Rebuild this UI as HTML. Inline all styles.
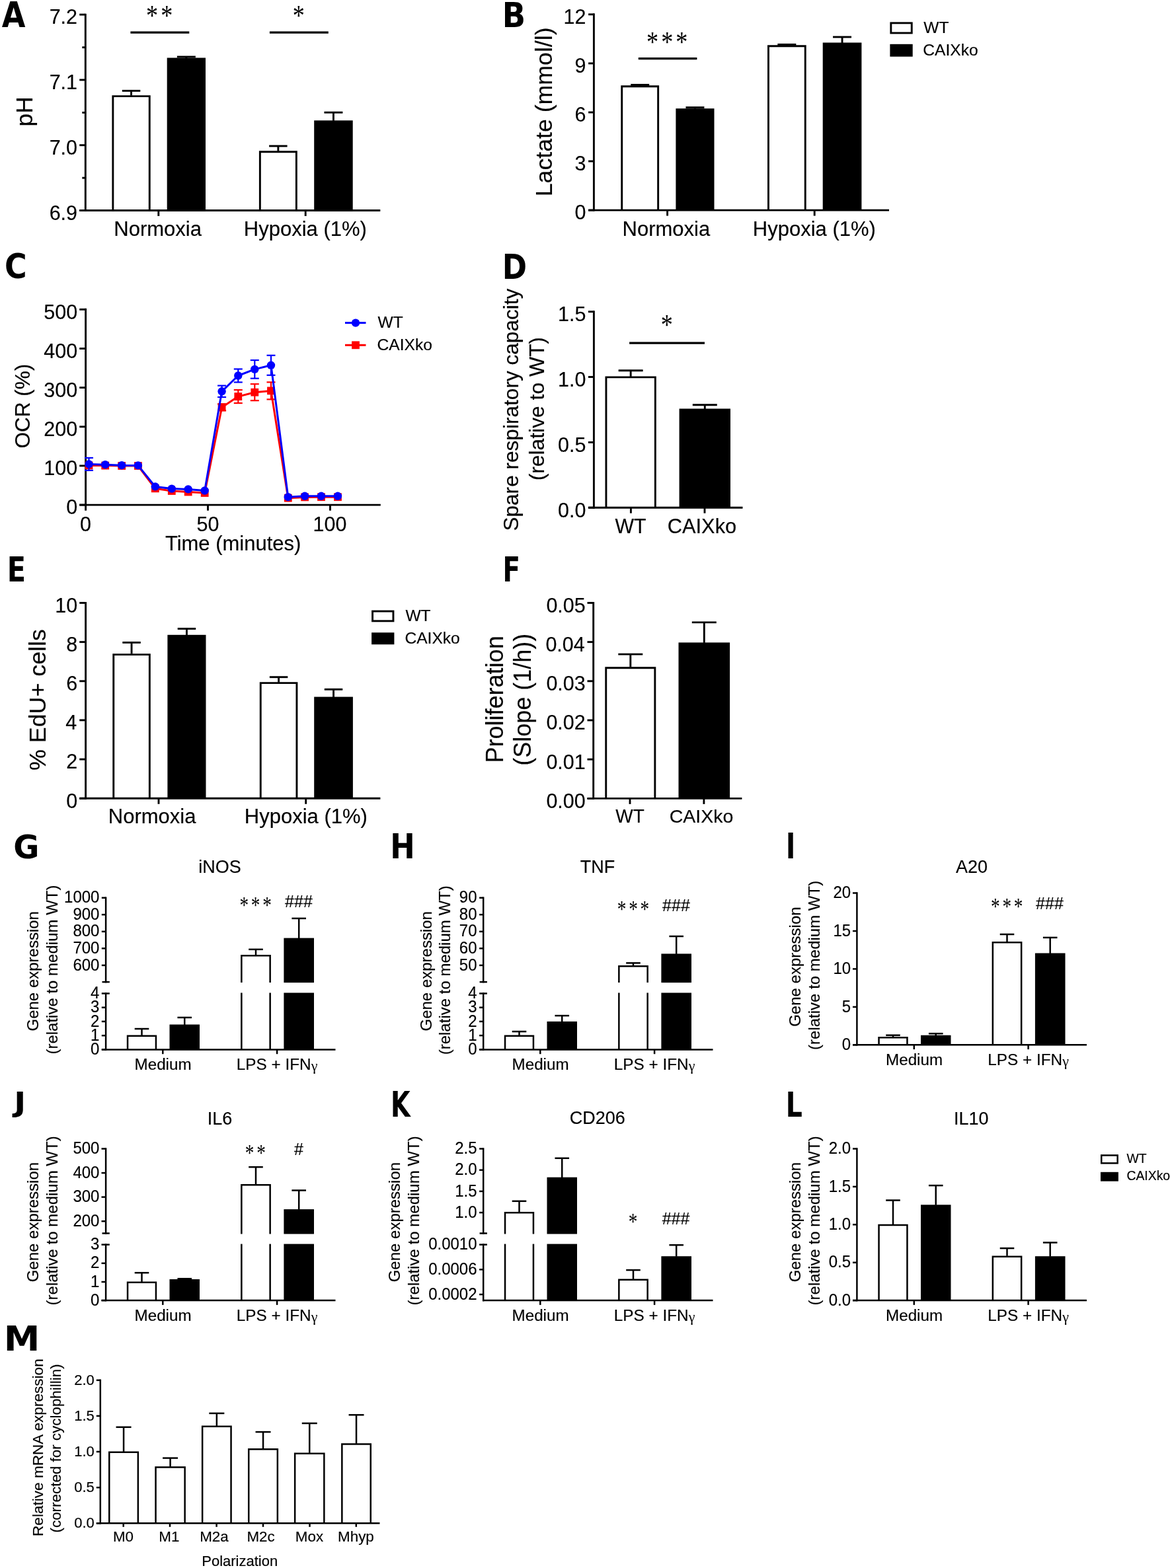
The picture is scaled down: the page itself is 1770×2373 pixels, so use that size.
<!DOCTYPE html>
<html lang="en">
<head>
<meta charset="utf-8">
<title>Figure</title>
<style>
html,body{margin:0;padding:0;background:#fff}
body{width:1770px;height:2373px;overflow:hidden}
svg{display:block}
svg text{font-family:"Liberation Sans",Arial,sans-serif;fill:#000;stroke:#000;stroke-width:.16px;stroke-linejoin:round}
svg .s{font-family:"Liberation Serif","Times New Roman",serif;stroke:none}
svg .d{font-family:"DejaVu Sans","Liberation Sans",sans-serif;stroke:none}
</style>
</head>
<body>
<svg width="1770" height="2373" viewBox="0 0 1770 2373" role="img" aria-label="Figure panels A to M" fill="none" stroke="#000" stroke-width="2.9" stroke-linecap="butt" stroke-linejoin="miter">
<rect x="0" y="0" width="1770" height="2373" fill="#fff" stroke="none"/>
<!-- Panel A -->
<text transform="translate(2.7 41.1) scale(0.8875 1.0184)" font-size="52" class="d" font-weight="bold">A</text>
<path d="M170.85 318.5V145.65H226.25V318.5" fill="#fff"/>
<line x1="198.55" y1="137.4" x2="198.55" y2="144.7"/>
<line x1="184.8" y1="137.4" x2="212.3" y2="137.4"/>
<rect x="252.7" y="87.5" width="58.3" height="231" fill="#000" stroke="none"/>
<line x1="281.85" y1="86" x2="281.85" y2="88"/>
<line x1="267.85" y1="86" x2="295.85" y2="86"/>
<path d="M393.35 318.5V229.75H448.35V318.5" fill="#fff"/>
<line x1="420.85" y1="221" x2="420.85" y2="228.8"/>
<line x1="407.1" y1="221" x2="434.6" y2="221"/>
<rect x="475.2" y="182.3" width="58.5" height="136.2" fill="#000" stroke="none"/>
<line x1="504.45" y1="170.2" x2="504.45" y2="182.8"/>
<line x1="490.45" y1="170.2" x2="518.45" y2="170.2"/>
<line x1="129.3" y1="20.65" x2="129.3" y2="319.95"/>
<line x1="120.2" y1="22.1" x2="129.3" y2="22.1"/>
<line x1="120.2" y1="120.9" x2="129.3" y2="120.9"/>
<line x1="120.2" y1="219.7" x2="129.3" y2="219.7"/>
<line x1="120.2" y1="318.5" x2="129.3" y2="318.5"/>
<line x1="124.3" y1="71.7" x2="129.3" y2="71.7"/>
<line x1="124.3" y1="170.4" x2="129.3" y2="170.4"/>
<line x1="124.3" y1="269.2" x2="129.3" y2="269.2"/>
<text transform="translate(74.66 36.4) scale(1 1.04)" font-size="30.5">7.2</text>
<text transform="translate(74.66 135.2) scale(1 1.04)" font-size="30.5">7.1</text>
<text transform="translate(74.66 234) scale(1 1.04)" font-size="30.5">7.0</text>
<text transform="translate(74.66 332.8) scale(1 1.04)" font-size="30.5">6.9</text>
<line x1="120.2" y1="318.5" x2="575.3" y2="318.5"/>
<line x1="239.8" y1="318.5" x2="239.8" y2="327"/>
<line x1="462.2" y1="318.5" x2="462.2" y2="327"/>
<text transform="translate(49 191.54) rotate(-90)" font-size="35.4">pH</text>
<line x1="197.4" y1="49.2" x2="286.3" y2="49.2" stroke-width="3.3"/>
<line x1="407.9" y1="49.2" x2="496.8" y2="49.2" stroke-width="3.3"/>
<text transform="translate(221.06 38) scale(0.8222 1.0000)" font-size="44" class="s" letter-spacing="4.88">**</text>
<text transform="translate(442.76 38) scale(0.8222 1.0000)" font-size="44" class="s">*</text>
<text x="172.3" y="357" font-size="31">Normoxia</text>
<text x="368.83" y="357" font-size="31">Hypoxia (1%)</text>
<!-- Panel B -->
<text transform="translate(759.64 40.7) scale(0.8906 0.9789)" font-size="52" class="d" font-weight="bold">B</text>
<path d="M940.75 318.1V130.75H995.65V318.1" fill="#fff"/>
<line x1="968.2" y1="128.4" x2="968.2" y2="129.8"/>
<line x1="954.2" y1="128.4" x2="982.2" y2="128.4"/>
<rect x="1022.4" y="164.2" width="58.1" height="153.9" fill="#000" stroke="none"/>
<line x1="1051.45" y1="162.6" x2="1051.45" y2="164.7"/>
<line x1="1037.45" y1="162.6" x2="1065.45" y2="162.6"/>
<path d="M1162.45 318.1V69.75H1218.25V318.1" fill="#fff"/>
<line x1="1190.35" y1="67.4" x2="1190.35" y2="68.8"/>
<line x1="1176.35" y1="67.4" x2="1204.35" y2="67.4"/>
<rect x="1244.7" y="64.5" width="58.7" height="253.6" fill="#000" stroke="none"/>
<line x1="1274.05" y1="56" x2="1274.05" y2="65"/>
<line x1="1260.05" y1="56" x2="1288.05" y2="56"/>
<line x1="898.4" y1="20.35" x2="898.4" y2="319.55"/>
<line x1="890.1" y1="21.8" x2="898.4" y2="21.8"/>
<line x1="890.1" y1="95.9" x2="898.4" y2="95.9"/>
<line x1="890.1" y1="170" x2="898.4" y2="170"/>
<line x1="890.1" y1="244" x2="898.4" y2="244"/>
<line x1="890.1" y1="318.1" x2="898.4" y2="318.1"/>
<text transform="translate(852.44 35.8) scale(1 1.04)" font-size="30.5">12</text>
<text transform="translate(869.4 109.9) scale(1 1.04)" font-size="30.5">9</text>
<text transform="translate(869.4 184) scale(1 1.04)" font-size="30.5">6</text>
<text transform="translate(869.4 258) scale(1 1.04)" font-size="30.5">3</text>
<text transform="translate(869.4 332.1) scale(1 1.04)" font-size="30.5">0</text>
<line x1="890.1" y1="318.1" x2="1345" y2="318.1"/>
<line x1="1009.6" y1="318.1" x2="1009.6" y2="326.6"/>
<line x1="1232.2" y1="318.1" x2="1232.2" y2="326.6"/>
<text transform="translate(835.3 297.27) rotate(-90)" font-size="35.7">Lactate (mmol/l)</text>
<line x1="965.8" y1="88.7" x2="1054.4" y2="88.7" stroke-width="3.3"/>
<text transform="translate(977.96 77.9) scale(0.8222 1.0000)" font-size="44" class="s" letter-spacing="5">***</text>
<text x="941.6" y="357" font-size="31">Normoxia</text>
<text x="1138.83" y="357" font-size="31">Hypoxia (1%)</text>
<rect x="1347.85" y="34.85" width="31.4" height="15.1" fill="#fff"/>
<rect x="1346.4" y="66.8" width="34.3" height="18.9" fill="#000" stroke="none"/>
<text x="1397.3" y="50" font-size="24.6">WT</text>
<text x="1396.3" y="83.9" font-size="24.6">CAIXko</text>
<!-- Panel C -->
<text transform="translate(6.94 421.32) scale(0.8818 0.9825)" font-size="52" class="d" font-weight="bold">C</text>
<line x1="129.6" y1="466.85" x2="129.6" y2="765.55"/>
<line x1="120.2" y1="468.3" x2="129.6" y2="468.3"/>
<line x1="120.2" y1="527.5" x2="129.6" y2="527.5"/>
<line x1="120.2" y1="586.6" x2="129.6" y2="586.6"/>
<line x1="120.2" y1="645.8" x2="129.6" y2="645.8"/>
<line x1="120.2" y1="704.9" x2="129.6" y2="704.9"/>
<line x1="120.2" y1="764.1" x2="129.6" y2="764.1"/>
<text transform="translate(66.37 482.6) scale(1 1.04)" font-size="30.5">500</text>
<text transform="translate(66.37 541.8) scale(1 1.04)" font-size="30.5">400</text>
<text transform="translate(66.37 600.9) scale(1 1.04)" font-size="30.5">300</text>
<text transform="translate(66.37 660.1) scale(1 1.04)" font-size="30.5">200</text>
<text transform="translate(66.37 719.2) scale(1 1.04)" font-size="30.5">100</text>
<text transform="translate(100.3 778.4) scale(1 1.04)" font-size="30.5">0</text>
<line x1="120.2" y1="764.1" x2="575.8" y2="764.1"/>
<line x1="129.6" y1="764.1" x2="129.6" y2="772.7"/>
<line x1="314.5" y1="764.1" x2="314.5" y2="772.7"/>
<line x1="499.5" y1="764.1" x2="499.5" y2="772.7"/>
<text transform="translate(121.1 804.2) scale(1 1.04)" font-size="30.5">0</text>
<text transform="translate(297.52 804.2) scale(1 1.04)" font-size="30.5">50</text>
<text transform="translate(473.54 804.2) scale(1 1.04)" font-size="30.5">100</text>
<text x="249.89" y="833.1" font-size="31">Time (minutes)</text>
<text transform="translate(45 678.42) rotate(-90)" font-size="31.5">OCR (%)</text>
<line x1="335.6" y1="611.4" x2="335.6" y2="621.4" stroke-width="2.2" stroke="#ff0000"/>
<line x1="329.1" y1="611.4" x2="342.1" y2="611.4" stroke-width="2.2" stroke="#ff0000"/>
<line x1="329.1" y1="621.4" x2="342.1" y2="621.4" stroke-width="2.2" stroke="#ff0000"/>
<line x1="360.3" y1="590.1" x2="360.3" y2="610.1" stroke-width="2.2" stroke="#ff0000"/>
<line x1="353.8" y1="590.1" x2="366.8" y2="590.1" stroke-width="2.2" stroke="#ff0000"/>
<line x1="353.8" y1="610.1" x2="366.8" y2="610.1" stroke-width="2.2" stroke="#ff0000"/>
<line x1="385.3" y1="581.2" x2="385.3" y2="606.2" stroke-width="2.2" stroke="#ff0000"/>
<line x1="378.8" y1="581.2" x2="391.8" y2="581.2" stroke-width="2.2" stroke="#ff0000"/>
<line x1="378.8" y1="606.2" x2="391.8" y2="606.2" stroke-width="2.2" stroke="#ff0000"/>
<line x1="410" y1="578.4" x2="410" y2="604.4" stroke-width="2.2" stroke="#ff0000"/>
<line x1="403.5" y1="578.4" x2="416.5" y2="578.4" stroke-width="2.2" stroke="#ff0000"/>
<line x1="403.5" y1="604.4" x2="416.5" y2="604.4" stroke-width="2.2" stroke="#ff0000"/>
<polyline points="134.5,704.4 159.2,704.6 184.2,705.0 208.9,705.0 234.8,739.3 259.8,743.0 284.7,744.5 309.7,746.0 335.6,616.4 360.3,600.1 385.3,593.7 410.0,591.4 435.8,753.7 461.1,752.4 486.0,752.2 511.0,752.2" stroke="#ff0000" stroke-width="3" stroke-linejoin="round"/>
<rect x="128.6" y="698.5" width="11.8" height="11.8" fill="#ff0000" stroke="none"/>
<rect x="153.3" y="698.7" width="11.8" height="11.8" fill="#ff0000" stroke="none"/>
<rect x="178.3" y="699.1" width="11.8" height="11.8" fill="#ff0000" stroke="none"/>
<rect x="203" y="699.1" width="11.8" height="11.8" fill="#ff0000" stroke="none"/>
<rect x="228.9" y="733.4" width="11.8" height="11.8" fill="#ff0000" stroke="none"/>
<rect x="253.9" y="737.1" width="11.8" height="11.8" fill="#ff0000" stroke="none"/>
<rect x="278.8" y="738.6" width="11.8" height="11.8" fill="#ff0000" stroke="none"/>
<rect x="303.8" y="740.1" width="11.8" height="11.8" fill="#ff0000" stroke="none"/>
<rect x="329.7" y="610.5" width="11.8" height="11.8" fill="#ff0000" stroke="none"/>
<rect x="354.4" y="594.2" width="11.8" height="11.8" fill="#ff0000" stroke="none"/>
<rect x="379.4" y="587.8" width="11.8" height="11.8" fill="#ff0000" stroke="none"/>
<rect x="404.1" y="585.5" width="11.8" height="11.8" fill="#ff0000" stroke="none"/>
<rect x="429.9" y="747.8" width="11.8" height="11.8" fill="#ff0000" stroke="none"/>
<rect x="455.2" y="746.5" width="11.8" height="11.8" fill="#ff0000" stroke="none"/>
<rect x="480.1" y="746.3" width="11.8" height="11.8" fill="#ff0000" stroke="none"/>
<rect x="505.1" y="746.3" width="11.8" height="11.8" fill="#ff0000" stroke="none"/>
<line x1="134.5" y1="692.9" x2="134.5" y2="711.9" stroke-width="2.2" stroke="#0000ff"/>
<line x1="128" y1="692.9" x2="141" y2="692.9" stroke-width="2.2" stroke="#0000ff"/>
<line x1="128" y1="711.9" x2="141" y2="711.9" stroke-width="2.2" stroke="#0000ff"/>
<line x1="335.6" y1="583.6" x2="335.6" y2="601" stroke-width="2.2" stroke="#0000ff"/>
<line x1="329.1" y1="583.6" x2="342.1" y2="583.6" stroke-width="2.2" stroke="#0000ff"/>
<line x1="329.1" y1="601" x2="342.1" y2="601" stroke-width="2.2" stroke="#0000ff"/>
<line x1="360.3" y1="558.5" x2="360.3" y2="578.5" stroke-width="2.2" stroke="#0000ff"/>
<line x1="353.8" y1="558.5" x2="366.8" y2="558.5" stroke-width="2.2" stroke="#0000ff"/>
<line x1="353.8" y1="578.5" x2="366.8" y2="578.5" stroke-width="2.2" stroke="#0000ff"/>
<line x1="385.3" y1="545.1" x2="385.3" y2="572.7" stroke-width="2.2" stroke="#0000ff"/>
<line x1="378.8" y1="545.1" x2="391.8" y2="545.1" stroke-width="2.2" stroke="#0000ff"/>
<line x1="378.8" y1="572.7" x2="391.8" y2="572.7" stroke-width="2.2" stroke="#0000ff"/>
<line x1="410" y1="537.8" x2="410" y2="567.8" stroke-width="2.2" stroke="#0000ff"/>
<line x1="403.5" y1="537.8" x2="416.5" y2="537.8" stroke-width="2.2" stroke="#0000ff"/>
<line x1="403.5" y1="567.8" x2="416.5" y2="567.8" stroke-width="2.2" stroke="#0000ff"/>
<polyline points="134.5,702.4 159.2,703.2 184.2,704.2 208.9,704.4 234.8,736.4 259.8,739.6 284.7,740.4 309.7,742.5 335.6,592.3 360.3,568.5 385.3,558.9 410.0,552.8 435.8,752.2 461.1,750.8 486.0,750.8 511.0,750.8" stroke="#0000ff" stroke-width="3" stroke-linejoin="round"/>
<circle cx="134.5" cy="702.4" r="6.2" fill="#0000ff" stroke="none"/>
<circle cx="159.2" cy="703.2" r="6.2" fill="#0000ff" stroke="none"/>
<circle cx="184.2" cy="704.2" r="6.2" fill="#0000ff" stroke="none"/>
<circle cx="208.9" cy="704.4" r="6.2" fill="#0000ff" stroke="none"/>
<circle cx="234.8" cy="736.4" r="6.2" fill="#0000ff" stroke="none"/>
<circle cx="259.8" cy="739.6" r="6.2" fill="#0000ff" stroke="none"/>
<circle cx="284.7" cy="740.4" r="6.2" fill="#0000ff" stroke="none"/>
<circle cx="309.7" cy="742.5" r="6.2" fill="#0000ff" stroke="none"/>
<circle cx="335.6" cy="592.3" r="6.2" fill="#0000ff" stroke="none"/>
<circle cx="360.3" cy="568.5" r="6.2" fill="#0000ff" stroke="none"/>
<circle cx="385.3" cy="558.9" r="6.2" fill="#0000ff" stroke="none"/>
<circle cx="410.0" cy="552.8" r="6.2" fill="#0000ff" stroke="none"/>
<circle cx="435.8" cy="752.2" r="6.2" fill="#0000ff" stroke="none"/>
<circle cx="461.1" cy="750.8" r="6.2" fill="#0000ff" stroke="none"/>
<circle cx="486.0" cy="750.8" r="6.2" fill="#0000ff" stroke="none"/>
<circle cx="511.0" cy="750.8" r="6.2" fill="#0000ff" stroke="none"/>
<line x1="522" y1="488.6" x2="553.5" y2="488.6" stroke-width="3" stroke="#0000ff"/>
<circle cx="538" cy="488.6" r="6.2" fill="#0000ff" stroke="none"/>
<line x1="522" y1="522.3" x2="553.5" y2="522.3" stroke-width="3" stroke="#ff0000"/>
<rect x="532.1" y="516.4" width="11.8" height="11.8" fill="#ff0000" stroke="none"/>
<text x="571.5" y="496.1" font-size="24.6">WT</text>
<text x="570.5" y="529.8" font-size="24.6">CAIXko</text>
<!-- Panel D -->
<text transform="translate(759.74 421.7) scale(0.8649 0.9789)" font-size="52" class="d" font-weight="bold">D</text>
<path d="M916.95 768.2V570.85H991.35V768.2" fill="#fff"/>
<line x1="954.15" y1="560.7" x2="954.15" y2="569.9"/>
<line x1="935.65" y1="560.7" x2="972.65" y2="560.7"/>
<rect x="1027.6" y="618.5" width="77.4" height="149.7" fill="#000" stroke="none"/>
<line x1="1066.3" y1="612.7" x2="1066.3" y2="619"/>
<line x1="1047.8" y1="612.7" x2="1084.8" y2="612.7"/>
<line x1="898.4" y1="470.25" x2="898.4" y2="769.65"/>
<line x1="889.9" y1="471.7" x2="898.4" y2="471.7"/>
<line x1="889.9" y1="570.5" x2="898.4" y2="570.5"/>
<line x1="889.9" y1="669.4" x2="898.4" y2="669.4"/>
<line x1="889.9" y1="768.2" x2="898.4" y2="768.2"/>
<text transform="translate(844.06 486.2) scale(1 1.04)" font-size="30.5">1.5</text>
<text transform="translate(844.06 585) scale(1 1.04)" font-size="30.5">1.0</text>
<text transform="translate(844.06 683.9) scale(1 1.04)" font-size="30.5">0.5</text>
<text transform="translate(844.06 782.7) scale(1 1.04)" font-size="30.5">0.0</text>
<line x1="889.9" y1="768.2" x2="1123.5" y2="768.2"/>
<line x1="954.4" y1="768.2" x2="954.4" y2="776.7"/>
<line x1="1066" y1="768.2" x2="1066" y2="776.7"/>
<text transform="translate(784.2 803.6) rotate(-90)" font-size="31.6">Spare respiratory capacity</text>
<text transform="translate(822.8 727.36) rotate(-90)" font-size="31.8">(relative to WT)</text>
<line x1="952.1" y1="519.1" x2="1066" y2="519.1" stroke-width="3.3"/>
<text transform="translate(999.76 505.5) scale(0.8222 1.0000)" font-size="44" class="s">*</text>
<text transform="translate(930.4 807) scale(1 1.04)" font-size="30.3">WT</text>
<text x="1009.76" y="807" font-size="30.8">CAIXko</text>
<!-- Panel E -->
<text transform="translate(10.81 880) scale(0.7964 0.9947)" font-size="52" class="d" font-weight="bold">E</text>
<path d="M171.75 1208.3V990.65H226.35V1208.3" fill="#fff"/>
<line x1="199.05" y1="972.4" x2="199.05" y2="989.7"/>
<line x1="185.3" y1="972.4" x2="212.8" y2="972.4"/>
<rect x="253.4" y="960.8" width="58.1" height="247.5" fill="#000" stroke="none"/>
<line x1="282.45" y1="951.5" x2="282.45" y2="961.3"/>
<line x1="268.7" y1="951.5" x2="296.2" y2="951.5"/>
<path d="M394.25 1208.3V1033.65H448.95V1208.3" fill="#fff"/>
<line x1="421.6" y1="1024.7" x2="421.6" y2="1032.7"/>
<line x1="407.85" y1="1024.7" x2="435.35" y2="1024.7"/>
<rect x="475.2" y="1054.6" width="58.7" height="153.7" fill="#000" stroke="none"/>
<line x1="504.55" y1="1043.3" x2="504.55" y2="1055.1"/>
<line x1="490.8" y1="1043.3" x2="518.3" y2="1043.3"/>
<line x1="129.6" y1="910.95" x2="129.6" y2="1209.75"/>
<line x1="120.2" y1="912.4" x2="129.6" y2="912.4"/>
<line x1="120.2" y1="971.6" x2="129.6" y2="971.6"/>
<line x1="120.2" y1="1030.8" x2="129.6" y2="1030.8"/>
<line x1="120.2" y1="1089.9" x2="129.6" y2="1089.9"/>
<line x1="120.2" y1="1149.1" x2="129.6" y2="1149.1"/>
<line x1="120.2" y1="1208.3" x2="129.6" y2="1208.3"/>
<text transform="translate(83.34 926.7) scale(1 1.04)" font-size="30.5">10</text>
<text transform="translate(100.3 985.9) scale(1 1.04)" font-size="30.5">8</text>
<text transform="translate(100.3 1045.1) scale(1 1.04)" font-size="30.5">6</text>
<text transform="translate(99.3 1104.2) scale(1 1.04)" font-size="30.5">4</text>
<text transform="translate(100.3 1163.4) scale(1 1.04)" font-size="30.5">2</text>
<text transform="translate(100.3 1222.6) scale(1 1.04)" font-size="30.5">0</text>
<line x1="120.2" y1="1208.3" x2="575.4" y2="1208.3"/>
<line x1="240" y1="1208.3" x2="240" y2="1216.8"/>
<line x1="462.7" y1="1208.3" x2="462.7" y2="1216.8"/>
<text transform="translate(68.9 1165.99) rotate(-90)" font-size="35.8">% EdU+ cells</text>
<text x="163.8" y="1246.4" font-size="31">Normoxia</text>
<text x="369.83" y="1246.4" font-size="31">Hypoxia (1%)</text>
<rect x="563.55" y="925.05" width="31.4" height="14.8" fill="#fff"/>
<rect x="562.1" y="957.3" width="34.3" height="18" fill="#000" stroke="none"/>
<text x="613.4" y="939.8" font-size="24.6">WT</text>
<text x="612.4" y="973.9" font-size="24.6">CAIXko</text>
<!-- Panel F -->
<text transform="translate(760.61 880) scale(0.7464 0.9947)" font-size="52" class="d" font-weight="bold">F</text>
<path d="M916.75 1208.4V1010.75H990.85V1208.4" fill="#fff"/>
<line x1="953.8" y1="990.1" x2="953.8" y2="1009.8"/>
<line x1="935.3" y1="990.1" x2="972.3" y2="990.1"/>
<rect x="1026.5" y="972.4" width="77.6" height="236" fill="#000" stroke="none"/>
<line x1="1065.3" y1="941.9" x2="1065.3" y2="972.9"/>
<line x1="1046.8" y1="941.9" x2="1083.8" y2="941.9"/>
<line x1="897.7" y1="910.95" x2="897.7" y2="1209.85"/>
<line x1="888.5" y1="912.4" x2="897.7" y2="912.4"/>
<line x1="888.5" y1="971.6" x2="897.7" y2="971.6"/>
<line x1="888.5" y1="1030.8" x2="897.7" y2="1030.8"/>
<line x1="888.5" y1="1090" x2="897.7" y2="1090"/>
<line x1="888.5" y1="1149.2" x2="897.7" y2="1149.2"/>
<line x1="888.5" y1="1208.4" x2="897.7" y2="1208.4"/>
<text transform="translate(826.4 926.8) scale(1 1.04)" font-size="30.5">0.05</text>
<text transform="translate(825.4 986) scale(1 1.04)" font-size="30.5">0.04</text>
<text transform="translate(826.4 1045.2) scale(1 1.04)" font-size="30.5">0.03</text>
<text transform="translate(826.4 1104.4) scale(1 1.04)" font-size="30.5">0.02</text>
<text transform="translate(826.4 1163.6) scale(1 1.04)" font-size="30.5">0.01</text>
<text transform="translate(826.4 1222.8) scale(1 1.04)" font-size="30.5">0.00</text>
<line x1="888.5" y1="1208.4" x2="1122.4" y2="1208.4"/>
<line x1="953" y1="1208.4" x2="953" y2="1216.9"/>
<line x1="1064.9" y1="1208.4" x2="1064.9" y2="1216.9"/>
<text transform="translate(760.7 1154.44) rotate(-90)" font-size="36">Proliferation</text>
<text transform="translate(802.8 1158.84) rotate(-90)" font-size="36">(Slope (1/h))</text>
<text transform="translate(931.29 1245) scale(1 1.04)" font-size="28">WT</text>
<text x="1012.72" y="1245" font-size="28.5">CAIXko</text>
<!-- Panel G -->
<text transform="translate(20.36 1298.55) scale(0.9189 0.9525)" font-size="52" class="d" font-weight="bold">G</text>
<path d="M193.05 1588.4V1567.65H235.95V1588.4" fill="#fff" stroke-width="2.5"/>
<line x1="214.5" y1="1557" x2="214.5" y2="1566.9" stroke-width="2.5"/>
<line x1="203.7" y1="1557" x2="225.3" y2="1557" stroke-width="2.5"/>
<rect x="256.5" y="1550.5" width="45.5" height="37.9" fill="#000" stroke="none"/>
<line x1="279.25" y1="1539.9" x2="279.25" y2="1551" stroke-width="2.5"/>
<line x1="268.45" y1="1539.9" x2="290.05" y2="1539.9" stroke-width="2.5"/>
<path d="M365.35 1487.10V1446.25H408.65V1487.10" fill="#fff" stroke-width="2.50"/>
<line x1="365.35" y1="1502.5" x2="365.35" y2="1588.4" stroke-width="2.5"/>
<line x1="408.65" y1="1502.5" x2="408.65" y2="1588.4" stroke-width="2.5"/>
<line x1="387" y1="1436.8" x2="387" y2="1445.5" stroke-width="2.5"/>
<line x1="376.2" y1="1436.8" x2="397.8" y2="1436.8" stroke-width="2.5"/>
<rect x="429.4" y="1419.6" width="45.6" height="67.5" fill="#000" stroke="none"/>
<rect x="429.4" y="1502.5" width="45.6" height="85.9" fill="#000" stroke="none"/>
<line x1="452.2" y1="1389.9" x2="452.2" y2="1420.1" stroke-width="2.5"/>
<line x1="441.4" y1="1389.9" x2="463" y2="1389.9" stroke-width="2.5"/>
<line x1="160.1" y1="1357.45" x2="160.1" y2="1487.35" stroke-width="2.5"/>
<line x1="153.8" y1="1358.7" x2="160.1" y2="1358.7" stroke-width="2.5"/>
<text transform="translate(97.06 1366.3) scale(1 1.04)" font-size="24">1000</text>
<line x1="153.8" y1="1384.2" x2="160.1" y2="1384.2" stroke-width="2.5"/>
<text transform="translate(110.4 1391.8) scale(1 1.04)" font-size="24">900</text>
<line x1="153.8" y1="1409.8" x2="160.1" y2="1409.8" stroke-width="2.5"/>
<text transform="translate(110.4 1417.4) scale(1 1.04)" font-size="24">800</text>
<line x1="153.8" y1="1435.3" x2="160.1" y2="1435.3" stroke-width="2.5"/>
<text transform="translate(110.4 1442.9) scale(1 1.04)" font-size="24">700</text>
<line x1="153.8" y1="1460.9" x2="160.1" y2="1460.9" stroke-width="2.5"/>
<text transform="translate(110.4 1468.5) scale(1 1.04)" font-size="24">600</text>
<line x1="154.5" y1="1486.1" x2="165.8" y2="1486.1" stroke-width="2.5"/>
<line x1="160.1" y1="1502.25" x2="160.1" y2="1589.65" stroke-width="2.5"/>
<line x1="153.8" y1="1503.5" x2="165.8" y2="1503.5" stroke-width="2.5"/>
<text transform="translate(137.1 1511.1) scale(1 1.04)" font-size="24">4</text>
<line x1="153.8" y1="1524.7" x2="160.1" y2="1524.7" stroke-width="2.5"/>
<text transform="translate(137.1 1532.3) scale(1 1.04)" font-size="24">3</text>
<line x1="153.8" y1="1545.9" x2="160.1" y2="1545.9" stroke-width="2.5"/>
<text transform="translate(137.1 1553.5) scale(1 1.04)" font-size="24">2</text>
<line x1="153.8" y1="1567.2" x2="160.1" y2="1567.2" stroke-width="2.5"/>
<text transform="translate(137.1 1574.8) scale(1 1.04)" font-size="24">1</text>
<line x1="153.8" y1="1588.4" x2="160.1" y2="1588.4" stroke-width="2.5"/>
<text transform="translate(137.1 1596) scale(1 1.04)" font-size="24">0</text>
<line x1="153.8" y1="1588.4" x2="507.5" y2="1588.4" stroke-width="2.5"/>
<line x1="246.3" y1="1588.4" x2="246.3" y2="1595.2" stroke-width="2.5"/>
<line x1="419.1" y1="1588.4" x2="419.1" y2="1595.2" stroke-width="2.5"/>
<text x="203.56" y="1618.9" font-size="24.2">Medium</text>
<text x="357.8" y="1618.9" font-size="24.3">LPS + IFN<tspan x="470.8" y="1619.9" class="s" font-size="22">γ</tspan></text>
<text x="300.25" y="1321.2" font-size="27">iNOS</text>
<text transform="translate(58 1560.5) rotate(-90)" font-size="24">Gene expression</text>
<text transform="translate(87.4 1595.6) rotate(-90)" font-size="24">(relative to medium WT)</text>
<text transform="translate(362.49 1382.49) scale(0.7568 0.9935)" font-size="36" class="s" letter-spacing="4.92">***</text>
<text x="431.1" y="1373.2" font-size="25">###</text>
<!-- Panel H -->
<text transform="translate(590.35 1299.2) scale(0.8629 0.9921)" font-size="52" class="d" font-weight="bold">H</text>
<path d="M764.05 1588.4V1567.65H806.95V1588.4" fill="#fff" stroke-width="2.5"/>
<line x1="785.5" y1="1561.1" x2="785.5" y2="1566.9" stroke-width="2.5"/>
<line x1="774.7" y1="1561.1" x2="796.3" y2="1561.1" stroke-width="2.5"/>
<rect x="827.5" y="1545.9" width="45.5" height="42.5" fill="#000" stroke="none"/>
<line x1="850.25" y1="1537.1" x2="850.25" y2="1546.4" stroke-width="2.5"/>
<line x1="839.45" y1="1537.1" x2="861.05" y2="1537.1" stroke-width="2.5"/>
<path d="M936.35 1487.10V1462.35H979.65V1487.10" fill="#fff" stroke-width="2.50"/>
<line x1="936.35" y1="1502.5" x2="936.35" y2="1588.4" stroke-width="2.5"/>
<line x1="979.65" y1="1502.5" x2="979.65" y2="1588.4" stroke-width="2.5"/>
<line x1="958" y1="1457.4" x2="958" y2="1461.6" stroke-width="2.5"/>
<line x1="947.2" y1="1457.4" x2="968.8" y2="1457.4" stroke-width="2.5"/>
<rect x="1000.4" y="1443.4" width="45.6" height="43.7" fill="#000" stroke="none"/>
<rect x="1000.4" y="1502.5" width="45.6" height="85.9" fill="#000" stroke="none"/>
<line x1="1023.2" y1="1417" x2="1023.2" y2="1443.9" stroke-width="2.5"/>
<line x1="1012.4" y1="1417" x2="1034" y2="1417" stroke-width="2.5"/>
<line x1="731.2" y1="1357.45" x2="731.2" y2="1487.35" stroke-width="2.5"/>
<line x1="725.1" y1="1358.7" x2="731.2" y2="1358.7" stroke-width="2.5"/>
<text transform="translate(694.85 1366.3) scale(1 1.04)" font-size="24">90</text>
<line x1="725.1" y1="1384.2" x2="731.2" y2="1384.2" stroke-width="2.5"/>
<text transform="translate(694.85 1391.8) scale(1 1.04)" font-size="24">80</text>
<line x1="725.1" y1="1409.8" x2="731.2" y2="1409.8" stroke-width="2.5"/>
<text transform="translate(694.85 1417.4) scale(1 1.04)" font-size="24">70</text>
<line x1="725.1" y1="1435.3" x2="731.2" y2="1435.3" stroke-width="2.5"/>
<text transform="translate(694.85 1442.9) scale(1 1.04)" font-size="24">60</text>
<line x1="725.1" y1="1460.9" x2="731.2" y2="1460.9" stroke-width="2.5"/>
<text transform="translate(694.85 1468.5) scale(1 1.04)" font-size="24">50</text>
<line x1="725.6" y1="1486.1" x2="736.9" y2="1486.1" stroke-width="2.5"/>
<line x1="731.2" y1="1502.25" x2="731.2" y2="1589.65" stroke-width="2.5"/>
<line x1="725.1" y1="1503.5" x2="736.9" y2="1503.5" stroke-width="2.5"/>
<text transform="translate(708.2 1511.1) scale(1 1.04)" font-size="24">4</text>
<line x1="725.1" y1="1524.7" x2="731.2" y2="1524.7" stroke-width="2.5"/>
<text transform="translate(708.2 1532.3) scale(1 1.04)" font-size="24">3</text>
<line x1="725.1" y1="1545.9" x2="731.2" y2="1545.9" stroke-width="2.5"/>
<text transform="translate(708.2 1553.5) scale(1 1.04)" font-size="24">2</text>
<line x1="725.1" y1="1567.1" x2="731.2" y2="1567.1" stroke-width="2.5"/>
<text transform="translate(708.2 1574.7) scale(1 1.04)" font-size="24">1</text>
<line x1="725.1" y1="1588.3" x2="731.2" y2="1588.3" stroke-width="2.5"/>
<text transform="translate(708.2 1595.9) scale(1 1.04)" font-size="24">0</text>
<line x1="725.1" y1="1588.4" x2="1078.5" y2="1588.4" stroke-width="2.5"/>
<line x1="817.3" y1="1588.4" x2="817.3" y2="1595.2" stroke-width="2.5"/>
<line x1="990.1" y1="1588.4" x2="990.1" y2="1595.2" stroke-width="2.5"/>
<text x="774.56" y="1618.9" font-size="24.2">Medium</text>
<text x="928.8" y="1618.9" font-size="24.3">LPS + IFN<tspan x="1041.8" y="1619.9" class="s" font-size="22">γ</tspan></text>
<text x="877.8" y="1320.9" font-size="27">TNF</text>
<text transform="translate(652.5 1560.5) rotate(-90)" font-size="24">Gene expression</text>
<text transform="translate(681 1596.3) rotate(-90)" font-size="24">(relative to medium WT)</text>
<text transform="translate(933.79 1387.69) scale(0.7568 0.9935)" font-size="36" class="s" letter-spacing="4.92">***</text>
<text x="1002.1" y="1379.2" font-size="25">###</text>
<!-- Panel I -->
<text transform="translate(1188.95 1299.2) scale(0.7364 1.0105)" font-size="52" class="d" font-weight="bold">I</text>
<path d="M1329.55 1581.3V1570.35H1372.45V1581.3" fill="#fff" stroke-width="2.5"/>
<line x1="1351" y1="1566.7" x2="1351" y2="1569.6" stroke-width="2.5"/>
<line x1="1340.2" y1="1566.7" x2="1361.8" y2="1566.7" stroke-width="2.5"/>
<rect x="1393" y="1566.7" width="45.5" height="14.6" fill="#000" stroke="none"/>
<line x1="1415.75" y1="1564.2" x2="1415.75" y2="1567.2" stroke-width="2.5"/>
<line x1="1404.95" y1="1564.2" x2="1426.55" y2="1564.2" stroke-width="2.5"/>
<path d="M1501.85 1581.3V1426.35H1545.15V1581.3" fill="#fff" stroke-width="2.5"/>
<line x1="1523.5" y1="1414" x2="1523.5" y2="1425.6" stroke-width="2.5"/>
<line x1="1512.7" y1="1414" x2="1534.3" y2="1414" stroke-width="2.5"/>
<rect x="1565.9" y="1442.5" width="45.6" height="138.8" fill="#000" stroke="none"/>
<line x1="1588.7" y1="1418.9" x2="1588.7" y2="1443" stroke-width="2.5"/>
<line x1="1577.9" y1="1418.9" x2="1599.5" y2="1418.9" stroke-width="2.5"/>
<line x1="1296.4" y1="1350.25" x2="1296.4" y2="1582.55" stroke-width="2.5"/>
<line x1="1290" y1="1351.5" x2="1296.4" y2="1351.5" stroke-width="2.5"/>
<line x1="1290" y1="1409" x2="1296.4" y2="1409" stroke-width="2.5"/>
<line x1="1290" y1="1466.4" x2="1296.4" y2="1466.4" stroke-width="2.5"/>
<line x1="1290" y1="1523.9" x2="1296.4" y2="1523.9" stroke-width="2.5"/>
<line x1="1290" y1="1581.3" x2="1296.4" y2="1581.3" stroke-width="2.5"/>
<text transform="translate(1260.45 1359.2) scale(1 1.04)" font-size="24">20</text>
<text transform="translate(1260.45 1416.7) scale(1 1.04)" font-size="24">15</text>
<text transform="translate(1260.45 1474.1) scale(1 1.04)" font-size="24">10</text>
<text transform="translate(1273.8 1531.6) scale(1 1.04)" font-size="24">5</text>
<text transform="translate(1273.8 1589) scale(1 1.04)" font-size="24">0</text>
<line x1="1290" y1="1581.3" x2="1644" y2="1581.3" stroke-width="2.5"/>
<line x1="1382.8" y1="1581.3" x2="1382.8" y2="1588.1" stroke-width="2.5"/>
<line x1="1555.6" y1="1581.3" x2="1555.6" y2="1588.1" stroke-width="2.5"/>
<text x="1340.06" y="1612.2" font-size="24.2">Medium</text>
<text x="1494.3" y="1612.2" font-size="24.3">LPS + IFN<tspan x="1607.3" y="1613.2" class="s" font-size="22">γ</tspan></text>
<text x="1445.99" y="1321.3" font-size="27">A20</text>
<text transform="translate(1211 1553.8) rotate(-90)" font-size="24">Gene expression</text>
<text transform="translate(1240 1588.9) rotate(-90)" font-size="24">(relative to medium WT)</text>
<text transform="translate(1499.09 1384.09) scale(0.7568 0.9935)" font-size="36" class="s" letter-spacing="4.92">***</text>
<text x="1567.1" y="1375.7" font-size="25">###</text>
<!-- Panel J -->
<text transform="translate(21.18 1681.5) scale(0.9278 0.8000)" font-size="52" class="d" font-weight="bold">J</text>
<path d="M193.05 1968.1V1940.85H235.95V1968.1" fill="#fff" stroke-width="2.5"/>
<line x1="214.5" y1="1926.2" x2="214.5" y2="1940.1" stroke-width="2.5"/>
<line x1="203.7" y1="1926.2" x2="225.3" y2="1926.2" stroke-width="2.5"/>
<rect x="256.5" y="1936" width="45.5" height="32.1" fill="#000" stroke="none"/>
<line x1="279.25" y1="1935.2" x2="279.25" y2="1936.5" stroke-width="2.5"/>
<line x1="268.45" y1="1935.2" x2="290.05" y2="1935.2" stroke-width="2.5"/>
<path d="M365.35 1867.50V1793.25H408.65V1867.50" fill="#fff" stroke-width="2.50"/>
<line x1="365.35" y1="1882.6" x2="365.35" y2="1968.1" stroke-width="2.5"/>
<line x1="408.65" y1="1882.6" x2="408.65" y2="1968.1" stroke-width="2.5"/>
<line x1="387" y1="1766.2" x2="387" y2="1792.5" stroke-width="2.5"/>
<line x1="376.2" y1="1766.2" x2="397.8" y2="1766.2" stroke-width="2.5"/>
<rect x="429.4" y="1830.1" width="45.6" height="37.4" fill="#000" stroke="none"/>
<rect x="429.4" y="1882.6" width="45.6" height="85.5" fill="#000" stroke="none"/>
<line x1="452.2" y1="1801.5" x2="452.2" y2="1830.6" stroke-width="2.5"/>
<line x1="441.4" y1="1801.5" x2="463" y2="1801.5" stroke-width="2.5"/>
<line x1="160.1" y1="1737.25" x2="160.1" y2="1867.75" stroke-width="2.5"/>
<line x1="153.5" y1="1738.5" x2="160.1" y2="1738.5" stroke-width="2.5"/>
<text transform="translate(110.4 1746.1) scale(1 1.04)" font-size="24">500</text>
<line x1="153.5" y1="1775.1" x2="160.1" y2="1775.1" stroke-width="2.5"/>
<text transform="translate(110.4 1782.7) scale(1 1.04)" font-size="24">400</text>
<line x1="153.5" y1="1811.6" x2="160.1" y2="1811.6" stroke-width="2.5"/>
<text transform="translate(110.4 1819.2) scale(1 1.04)" font-size="24">300</text>
<line x1="153.5" y1="1848.2" x2="160.1" y2="1848.2" stroke-width="2.5"/>
<text transform="translate(110.4 1855.8) scale(1 1.04)" font-size="24">200</text>
<line x1="154.5" y1="1866.5" x2="165.8" y2="1866.5" stroke-width="2.5"/>
<line x1="160.1" y1="1882.35" x2="160.1" y2="1969.35" stroke-width="2.5"/>
<line x1="153.5" y1="1883.6" x2="165.8" y2="1883.6" stroke-width="2.5"/>
<text transform="translate(137.1 1891.2) scale(1 1.04)" font-size="24">3</text>
<line x1="153.5" y1="1911.8" x2="160.1" y2="1911.8" stroke-width="2.5"/>
<text transform="translate(137.1 1919.4) scale(1 1.04)" font-size="24">2</text>
<line x1="153.5" y1="1940" x2="160.1" y2="1940" stroke-width="2.5"/>
<text transform="translate(137.1 1947.6) scale(1 1.04)" font-size="24">1</text>
<line x1="153.5" y1="1968.1" x2="160.1" y2="1968.1" stroke-width="2.5"/>
<text transform="translate(137.1 1975.7) scale(1 1.04)" font-size="24">0</text>
<line x1="153.5" y1="1968.1" x2="507.5" y2="1968.1" stroke-width="2.5"/>
<line x1="246.3" y1="1968.1" x2="246.3" y2="1974.9" stroke-width="2.5"/>
<line x1="419.1" y1="1968.1" x2="419.1" y2="1974.9" stroke-width="2.5"/>
<text x="203.56" y="1998.8" font-size="24.2">Medium</text>
<text x="357.8" y="1998.8" font-size="24.3">LPS + IFN<tspan x="470.8" y="1999.8" class="s" font-size="22">γ</tspan></text>
<text x="313.74" y="1701.8" font-size="27">IL6</text>
<text transform="translate(58 1940.3) rotate(-90)" font-size="24">Gene expression</text>
<text transform="translate(87.4 1975.4) rotate(-90)" font-size="24">(relative to medium WT)</text>
<text transform="translate(370.79 1756.59) scale(0.7568 0.9935)" font-size="36" class="s" letter-spacing="4.99">**</text>
<text x="444.9" y="1747.9" font-size="25">#</text>
<!-- Panel K -->
<text transform="translate(591.05 1689.8) scale(0.7368 1.0105)" font-size="52" class="d" font-weight="bold">K</text>
<path d="M764.05 1867.50V1835.15H806.95V1867.50" fill="#fff" stroke-width="2.50"/>
<line x1="764.05" y1="1882.6" x2="764.05" y2="1968.1" stroke-width="2.5"/>
<line x1="806.95" y1="1882.6" x2="806.95" y2="1968.1" stroke-width="2.5"/>
<line x1="785.5" y1="1817.8" x2="785.5" y2="1834.4" stroke-width="2.5"/>
<line x1="774.7" y1="1817.8" x2="796.3" y2="1817.8" stroke-width="2.5"/>
<rect x="827.5" y="1781.7" width="45.5" height="85.8" fill="#000" stroke="none"/>
<rect x="827.5" y="1882.6" width="45.5" height="85.5" fill="#000" stroke="none"/>
<line x1="850.25" y1="1752.8" x2="850.25" y2="1782.2" stroke-width="2.5"/>
<line x1="839.45" y1="1752.8" x2="861.05" y2="1752.8" stroke-width="2.5"/>
<path d="M936.35 1968.1V1936.85H979.65V1968.1" fill="#fff" stroke-width="2.5"/>
<line x1="958" y1="1922.1" x2="958" y2="1936.1" stroke-width="2.5"/>
<line x1="947.2" y1="1922.1" x2="968.8" y2="1922.1" stroke-width="2.5"/>
<rect x="1000.4" y="1901.2" width="45.6" height="66.9" fill="#000" stroke="none"/>
<line x1="1023.2" y1="1884.2" x2="1023.2" y2="1901.7" stroke-width="2.5"/>
<line x1="1012.4" y1="1884.2" x2="1034" y2="1884.2" stroke-width="2.5"/>
<line x1="731.2" y1="1737.25" x2="731.2" y2="1867.75" stroke-width="2.5"/>
<line x1="725.1" y1="1738.5" x2="731.2" y2="1738.5" stroke-width="2.5"/>
<text transform="translate(688.18 1746.1) scale(1 1.04)" font-size="24">2.5</text>
<line x1="725.1" y1="1770.7" x2="731.2" y2="1770.7" stroke-width="2.5"/>
<text transform="translate(688.18 1778.3) scale(1 1.04)" font-size="24">2.0</text>
<line x1="725.1" y1="1802.9" x2="731.2" y2="1802.9" stroke-width="2.5"/>
<text transform="translate(688.18 1810.5) scale(1 1.04)" font-size="24">1.5</text>
<line x1="725.1" y1="1835.1" x2="731.2" y2="1835.1" stroke-width="2.5"/>
<text transform="translate(688.18 1842.7) scale(1 1.04)" font-size="24">1.0</text>
<line x1="725.6" y1="1866.5" x2="736.9" y2="1866.5" stroke-width="2.5"/>
<line x1="731.2" y1="1882.35" x2="731.2" y2="1969.35" stroke-width="2.5"/>
<line x1="725.1" y1="1883.6" x2="736.9" y2="1883.6" stroke-width="2.5"/>
<text transform="translate(648.14 1891.2) scale(1 1.04)" font-size="24">0.0010</text>
<line x1="725.1" y1="1921.3" x2="731.2" y2="1921.3" stroke-width="2.5"/>
<text transform="translate(648.14 1928.9) scale(1 1.04)" font-size="24">0.0006</text>
<line x1="725.1" y1="1959" x2="731.2" y2="1959" stroke-width="2.5"/>
<text transform="translate(648.14 1966.6) scale(1 1.04)" font-size="24">0.0002</text>
<line x1="729.95" y1="1968.1" x2="1078.5" y2="1968.1" stroke-width="2.5"/>
<line x1="817.3" y1="1968.1" x2="817.3" y2="1974.9" stroke-width="2.5"/>
<line x1="990.1" y1="1968.1" x2="990.1" y2="1974.9" stroke-width="2.5"/>
<text x="774.56" y="1998.8" font-size="24.2">Medium</text>
<text x="928.8" y="1998.8" font-size="24.3">LPS + IFN<tspan x="1041.8" y="1999.8" class="s" font-size="22">γ</tspan></text>
<text x="861.79" y="1701.3" font-size="27">CD206</text>
<text transform="translate(605.1 1940.3) rotate(-90)" font-size="24">Gene expression</text>
<text transform="translate(634.3 1975.4) rotate(-90)" font-size="24">(relative to medium WT)</text>
<text transform="translate(950.69 1861.29) scale(0.7568 0.9935)" font-size="36" class="s">*</text>
<text x="1001.7" y="1852.7" font-size="25">###</text>
<!-- Panel L -->
<text transform="translate(1188.87 1689.5) scale(0.7571 1.0026)" font-size="52" class="d" font-weight="bold">L</text>
<path d="M1329.55 1968.1V1853.95H1372.45V1968.1" fill="#fff" stroke-width="2.5"/>
<line x1="1351" y1="1816.5" x2="1351" y2="1853.2" stroke-width="2.5"/>
<line x1="1340.2" y1="1816.5" x2="1361.8" y2="1816.5" stroke-width="2.5"/>
<rect x="1393" y="1823.3" width="45.5" height="144.8" fill="#000" stroke="none"/>
<line x1="1415.75" y1="1794.1" x2="1415.75" y2="1823.8" stroke-width="2.5"/>
<line x1="1404.95" y1="1794.1" x2="1426.55" y2="1794.1" stroke-width="2.5"/>
<path d="M1501.85 1968.1V1901.65H1545.15V1968.1" fill="#fff" stroke-width="2.5"/>
<line x1="1523.5" y1="1889.1" x2="1523.5" y2="1900.9" stroke-width="2.5"/>
<line x1="1512.7" y1="1889.1" x2="1534.3" y2="1889.1" stroke-width="2.5"/>
<rect x="1565.9" y="1901.2" width="45.6" height="66.9" fill="#000" stroke="none"/>
<line x1="1588.7" y1="1880.5" x2="1588.7" y2="1901.7" stroke-width="2.5"/>
<line x1="1577.9" y1="1880.5" x2="1599.5" y2="1880.5" stroke-width="2.5"/>
<line x1="1296.4" y1="1737.25" x2="1296.4" y2="1969.35" stroke-width="2.5"/>
<line x1="1290" y1="1738.5" x2="1296.4" y2="1738.5" stroke-width="2.5"/>
<line x1="1290" y1="1795.9" x2="1296.4" y2="1795.9" stroke-width="2.5"/>
<line x1="1290" y1="1853.3" x2="1296.4" y2="1853.3" stroke-width="2.5"/>
<line x1="1290" y1="1910.7" x2="1296.4" y2="1910.7" stroke-width="2.5"/>
<line x1="1290" y1="1968.1" x2="1296.4" y2="1968.1" stroke-width="2.5"/>
<text transform="translate(1253.78 1746.2) scale(1 1.04)" font-size="24">2.0</text>
<text transform="translate(1253.78 1803.6) scale(1 1.04)" font-size="24">1.5</text>
<text transform="translate(1253.78 1861) scale(1 1.04)" font-size="24">1.0</text>
<text transform="translate(1253.78 1918.4) scale(1 1.04)" font-size="24">0.5</text>
<text transform="translate(1253.78 1975.8) scale(1 1.04)" font-size="24">0.0</text>
<line x1="1290" y1="1968.1" x2="1644" y2="1968.1" stroke-width="2.5"/>
<line x1="1382.8" y1="1968.1" x2="1382.8" y2="1974.9" stroke-width="2.5"/>
<line x1="1555.6" y1="1968.1" x2="1555.6" y2="1974.9" stroke-width="2.5"/>
<text x="1340.06" y="1998.8" font-size="24.2">Medium</text>
<text x="1494.3" y="1998.8" font-size="24.3">LPS + IFN<tspan x="1607.3" y="1999.8" class="s" font-size="22">γ</tspan></text>
<text x="1442.93" y="1701.8" font-size="27">IL10</text>
<text transform="translate(1211 1940.3) rotate(-90)" font-size="24">Gene expression</text>
<text transform="translate(1240 1975.4) rotate(-90)" font-size="24">(relative to medium WT)</text>
<rect x="1666.25" y="1748.45" width="24.4" height="11.9" fill="#fff" stroke-width="2.5"/>
<rect x="1665" y="1773.8" width="26.9" height="13.9" fill="#000" stroke="none"/>
<text x="1704.4" y="1759.9" font-size="19.4">WT</text>
<text x="1704.4" y="1786.4" font-size="19.4">CAIXko</text>
<!-- Panel M -->
<text transform="translate(5.78 2043.6) scale(1.0558 0.9947)" font-size="52" class="d" font-weight="bold">M</text>
<path d="M165.25 2305.3V2197.75H208.85V2305.3" fill="#fff" stroke-width="2.5"/>
<line x1="187.05" y1="2159.8" x2="187.05" y2="2197" stroke-width="2.5"/>
<line x1="175.55" y1="2159.8" x2="198.55" y2="2159.8" stroke-width="2.5"/>
<path d="M235.55 2305.3V2220.55H279.65V2305.3" fill="#fff" stroke-width="2.5"/>
<line x1="257.6" y1="2206.6" x2="257.6" y2="2219.8" stroke-width="2.5"/>
<line x1="246.1" y1="2206.6" x2="269.1" y2="2206.6" stroke-width="2.5"/>
<path d="M306.15 2305.3V2158.85H349.55V2305.3" fill="#fff" stroke-width="2.5"/>
<line x1="327.85" y1="2138.9" x2="327.85" y2="2158.1" stroke-width="2.5"/>
<line x1="316.35" y1="2138.9" x2="339.35" y2="2138.9" stroke-width="2.5"/>
<path d="M376.25 2305.3V2193.35H419.85V2305.3" fill="#fff" stroke-width="2.5"/>
<line x1="398.05" y1="2167.1" x2="398.05" y2="2192.6" stroke-width="2.5"/>
<line x1="386.55" y1="2167.1" x2="409.55" y2="2167.1" stroke-width="2.5"/>
<path d="M446.15 2305.3V2199.65H490.35V2305.3" fill="#fff" stroke-width="2.5"/>
<line x1="468.25" y1="2154" x2="468.25" y2="2198.9" stroke-width="2.5"/>
<line x1="456.75" y1="2154" x2="479.75" y2="2154" stroke-width="2.5"/>
<path d="M517.35 2305.3V2185.55H560.75V2305.3" fill="#fff" stroke-width="2.5"/>
<line x1="539.05" y1="2141.3" x2="539.05" y2="2184.8" stroke-width="2.5"/>
<line x1="527.55" y1="2141.3" x2="550.55" y2="2141.3" stroke-width="2.5"/>
<line x1="151.8" y1="2087.55" x2="151.8" y2="2306.55" stroke-width="2.5"/>
<line x1="145.8" y1="2088.8" x2="151.8" y2="2088.8" stroke-width="2.5"/>
<line x1="145.8" y1="2142.9" x2="151.8" y2="2142.9" stroke-width="2.5"/>
<line x1="145.8" y1="2197" x2="151.8" y2="2197" stroke-width="2.5"/>
<line x1="145.8" y1="2251.2" x2="151.8" y2="2251.2" stroke-width="2.5"/>
<line x1="145.8" y1="2305.3" x2="151.8" y2="2305.3" stroke-width="2.5"/>
<text transform="translate(112.25 2095.6) scale(1 1.04)" font-size="22">2.0</text>
<text transform="translate(112.25 2149.7) scale(1 1.04)" font-size="22">1.5</text>
<text transform="translate(112.25 2203.8) scale(1 1.04)" font-size="22">1.0</text>
<text transform="translate(112.25 2258) scale(1 1.04)" font-size="22">0.5</text>
<text transform="translate(112.25 2312.1) scale(1 1.04)" font-size="22">0.0</text>
<line x1="145.8" y1="2305.3" x2="574.5" y2="2305.3" stroke-width="2.5"/>
<line x1="186.7" y1="2305.3" x2="186.7" y2="2310.8" stroke-width="2.5"/>
<line x1="257" y1="2305.3" x2="257" y2="2310.8" stroke-width="2.5"/>
<line x1="327.6" y1="2305.3" x2="327.6" y2="2310.8" stroke-width="2.5"/>
<line x1="398" y1="2305.3" x2="398" y2="2310.8" stroke-width="2.5"/>
<line x1="468.5" y1="2305.3" x2="468.5" y2="2310.8" stroke-width="2.5"/>
<line x1="538.8" y1="2305.3" x2="538.8" y2="2310.8" stroke-width="2.5"/>
<text x="170.97" y="2332.9" font-size="22.4">M0</text>
<text x="240.27" y="2332.9" font-size="22.4">M1</text>
<text x="302.15" y="2332.9" font-size="22.4">M2a</text>
<text x="373.45" y="2332.9" font-size="22.4">M2c</text>
<text x="446.85" y="2332.9" font-size="22.4">Mox</text>
<text x="511.05" y="2332.9" font-size="22.4">Mhyp</text>
<text x="305.24" y="2369.7" font-size="22">Polarization</text>
<text transform="translate(65.4 2325) rotate(-90)" font-size="22.6">Relative mRNA expression</text>
<text transform="translate(91.5 2319.5) rotate(-90)" font-size="22.4">(corrected for cyclophillin)</text>
</svg>
</body>
</html>
